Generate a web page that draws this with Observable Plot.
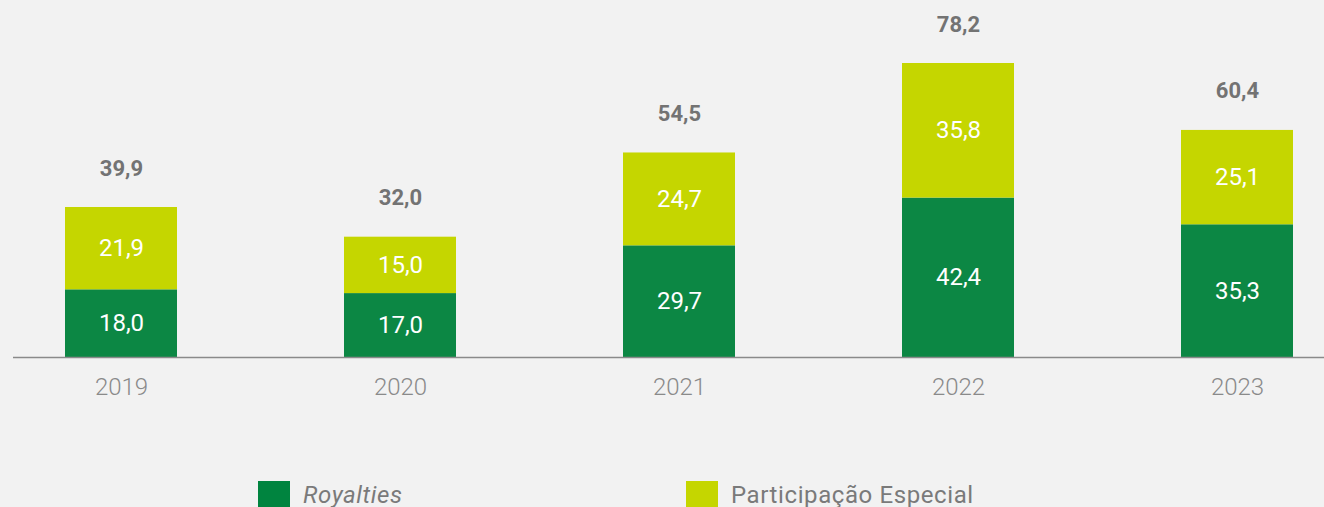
<!DOCTYPE html>
<html>
<head>
<meta charset="utf-8">
<script src="https://cdn.jsdelivr.net/npm/d3@7"></script>
<script src="https://cdn.jsdelivr.net/npm/@observablehq/plot@0.6"></script>
<style>
  html, body { margin: 0; padding: 0; background: #f2f2f2; overflow: hidden; }
  #chart svg { display: block; background: #f2f2f2; }
  #legend { position: relative; height: 37px; font-family: Roboto, "Open Sans", sans-serif; font-size: 24px; letter-spacing: 0.6px; color: #7a7a7a; }
  .item { position: absolute; top: 11px; display: flex; align-items: center; }
  .sw { width: 32px; height: 28px; margin-right: 13px; }
</style>
</head>
<body>
<div id="chart"></div>
<div id="legend"></div>
<script>
const years = ["2019", "2020", "2021", "2022", "2023"];
const royalties = [18.0, 17.0, 29.7, 42.4, 35.3];
const participacao = [21.9, 15.0, 24.7, 35.8, 25.1];
const totals = [39.9, 32.0, 54.5, 78.2, 60.4];
const seriesNames = ["Royalties", "Participação Especial"];
const colors = ["#0c8744", "#c5d600"];

const fmt = v => v.toFixed(1).replace(".", ",");

const rows = [];
years.forEach((y, i) => {
  rows.push({year: y, series: seriesNames[0], value: royalties[i]});
  rows.push({year: y, series: seriesNames[1], value: participacao[i]});
});
const totalRows = years.map((y, i) => ({year: y, total: totals[i]}));

const H = 470;
const baseline = 357;
const yMax = 80;
const pxPerUnit = 294 / 78.2;

const chart = Plot.plot({
  width: 1324,
  height: H,
  marginLeft: 65,
  marginRight: 31,
  marginBottom: H - baseline,
  marginTop: baseline - yMax * pxPerUnit,
  style: {background: "#f2f2f2", fontFamily: "Roboto, 'Open Sans', sans-serif", overflow: "visible"},
  x: {domain: years, paddingInner: 0.6, paddingOuter: 0, axis: null},
  y: {domain: [0, yMax], axis: null},
  color: {domain: seriesNames, range: colors},
  marks: [
    Plot.barY(rows, Plot.stackY({x: "year", y: "value", fill: "series", z: "series", order: seriesNames})),
    Plot.ruleY([0], {stroke: "#8a8a8a", strokeWidth: 1.5, insetLeft: -52, insetRight: -31}),
    Plot.text(rows, Plot.stackY({x: "year", y: "value", z: "series", order: seriesNames, text: d => fmt(d.value), fill: "white", fontSize: 24})),
    Plot.text(totalRows, {x: "year", y: "total", text: d => fmt(d.total), dy: -39, fill: "#737373", fontSize: 22, fontWeight: "bold"}),
    Plot.text(years, {x: d => d, y: () => 0, text: d => d, dy: 30, fill: "#8a8a8a", fontSize: 24, fontWeight: 300})
  ]
});
document.getElementById("chart").appendChild(chart);

const legend = document.getElementById("legend");
const lefts = [258, 686];
seriesNames.forEach((name, i) => {
  const it = document.createElement("div");
  it.className = "item";
  it.style.left = lefts[i] + "px";
  const sw = document.createElement("div");
  sw.className = "sw";
  sw.style.background = i === 0 ? "#00843f" : colors[1];
  const tx = document.createElement("span");
  tx.textContent = name;
  if (i === 0) tx.style.fontStyle = "italic";
  it.appendChild(sw);
  it.appendChild(tx);
  legend.appendChild(it);
});
</script>
</body>
</html>
